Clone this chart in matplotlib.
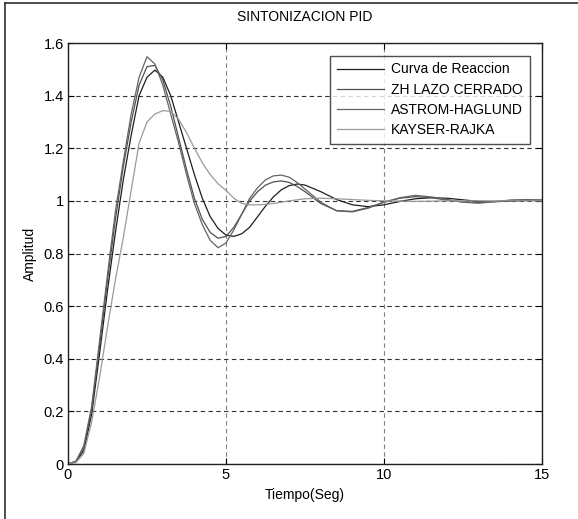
import matplotlib
matplotlib.use("Agg")
import matplotlib.pyplot as plt
from matplotlib.lines import Line2D

plt.rcParams['font.family'] = ['Liberation Sans', 'DejaVu Sans']

t_grid = [0, 0.25, 0.5, 0.75, 1.0, 1.25, 1.5, 1.75, 2.0, 2.25, 2.5, 2.75, 3.0, 3.25,
          3.5, 3.75, 4.0, 4.25, 4.5, 4.75, 5.0, 5.25, 5.5, 5.75, 6.0, 6.25, 6.5, 6.75,
          7.0, 7.25, 7.5, 8.0, 8.5, 9.0, 9.5, 10.0, 10.5, 11.0, 11.5, 12.0, 12.5, 13.0,
          13.5, 14.0, 14.5, 15.0]

curva_reaccion = [0, 0.01, 0.05, 0.19, 0.42, 0.66, 0.88, 1.08, 1.25, 1.40, 1.47, 1.497, 1.47, 1.40,
                  1.30, 1.20, 1.10, 1.01, 0.94, 0.895, 0.87, 0.865, 0.875, 0.90, 0.94, 0.98, 1.015, 1.042,
                  1.058, 1.064, 1.06, 1.035, 1.005, 0.985, 0.978, 0.985, 0.998, 1.008, 1.012, 1.01, 1.004, 0.998,
                  0.997, 0.999, 1.002, 1.003]

zh_lazo_cerrado = [0, 0.01, 0.06, 0.21, 0.45, 0.70, 0.93, 1.13, 1.30, 1.44, 1.51, 1.515, 1.46, 1.36,
                   1.24, 1.12, 1.01, 0.93, 0.88, 0.858, 0.865, 0.90, 0.95, 1.00, 1.035, 1.06, 1.072, 1.076,
                   1.07, 1.055, 1.035, 0.99, 0.963, 0.96, 0.975, 0.995, 1.01, 1.016, 1.012, 1.003, 0.996, 0.994,
                   0.998, 1.002, 1.003, 1.001]

astrom_haglund = [0, 0.01, 0.07, 0.22, 0.47, 0.72, 0.96, 1.15, 1.33, 1.47, 1.548, 1.52, 1.44, 1.33,
                  1.22, 1.10, 0.99, 0.91, 0.85, 0.822, 0.84, 0.89, 0.95, 1.01, 1.05, 1.08, 1.095, 1.098,
                  1.09, 1.07, 1.045, 0.995, 0.962, 0.958, 0.972, 0.995, 1.012, 1.021, 1.015, 1.005, 0.995, 0.991,
                  0.997, 1.003, 1.005, 1.002]

kayser_rajka = [0, 0.005, 0.04, 0.16, 0.33, 0.52, 0.70, 0.86, 1.04, 1.22, 1.30, 1.33, 1.343, 1.34,
                1.31, 1.26, 1.20, 1.145, 1.10, 1.065, 1.04, 1.01, 0.99, 0.985, 0.985, 0.987, 0.99, 0.995,
                1.0, 1.004, 1.008, 1.01, 1.008, 1.005, 1.002, 1.0, 0.999, 0.998, 0.999, 1.0, 1.0, 1.0,
                1.0, 1.0, 1.0, 1.0]

labels = ["Curva de Reaccion", "ZH LAZO CERRADO", "ASTROM-HAGLUND", "KAYSER-RAJKA"]
series = [curva_reaccion, zh_lazo_cerrado, astrom_haglund, kayser_rajka]
colors = ["#1e1e1e", "#505050", "#646464", "#9a9a9a"]

fig = plt.figure(figsize=(5.78, 5.19), dpi=100)
ax = fig.add_axes([68/578, 1-464/519, (542-68)/578, (464-43)/519])

for y, lab, c in zip(series, labels, colors):
    ax.plot(t_grid, y, color=c, lw=0.9, label=lab)

ax.set_xlim(0, 15)
ax.set_ylim(0, 1.6)
ax.set_xticks([0, 5, 10, 15])
ax.set_xticklabels(["0", "5", "10", "15"])
ax.set_yticks([0, 0.2, 0.4, 0.6, 0.8, 1.0, 1.2, 1.4, 1.6])
ax.set_yticklabels(["0", "0.2", "0.4", "0.6", "0.8", "1", "1.2", "1.4", "1.6"])
ax.tick_params(direction='in', top=True, right=True, labelsize=10.5, length=4, width=0.8, pad=3)

ax.yaxis.grid(True, linestyle=(0, (4, 3)), color="#333333", lw=0.8)
ax.xaxis.grid(True, linestyle=(0, (4, 3)), color="#808080", lw=0.8)
for s in ax.spines.values():
    s.set_linewidth(1.0)
    s.set_color("#202020")

ax.set_title("SINTONIZACION PID", fontsize=10, pad=16)
ax.set_xlabel("Tiempo(Seg)", fontsize=10, labelpad=4)
ax.set_ylabel("Amplitud", fontsize=10, labelpad=5)

leg = ax.legend(loc="upper right", fontsize=10, frameon=True, fancybox=False,
                borderaxespad=0.9, handlelength=3.4, handletextpad=0.5,
                labelspacing=0.45, borderpad=0.5)
leg.get_frame().set_edgecolor("#202020")
leg.get_frame().set_linewidth(1.0)

fig.add_artist(Line2D([5/578, 5/578], [0, 1-3/519], color="#303030", lw=1.2, transform=fig.transFigure))
fig.add_artist(Line2D([5/578, 1], [1-3/519, 1-3/519], color="#303030", lw=1.2, transform=fig.transFigure))

fig.savefig("out.png", dpi=100)
